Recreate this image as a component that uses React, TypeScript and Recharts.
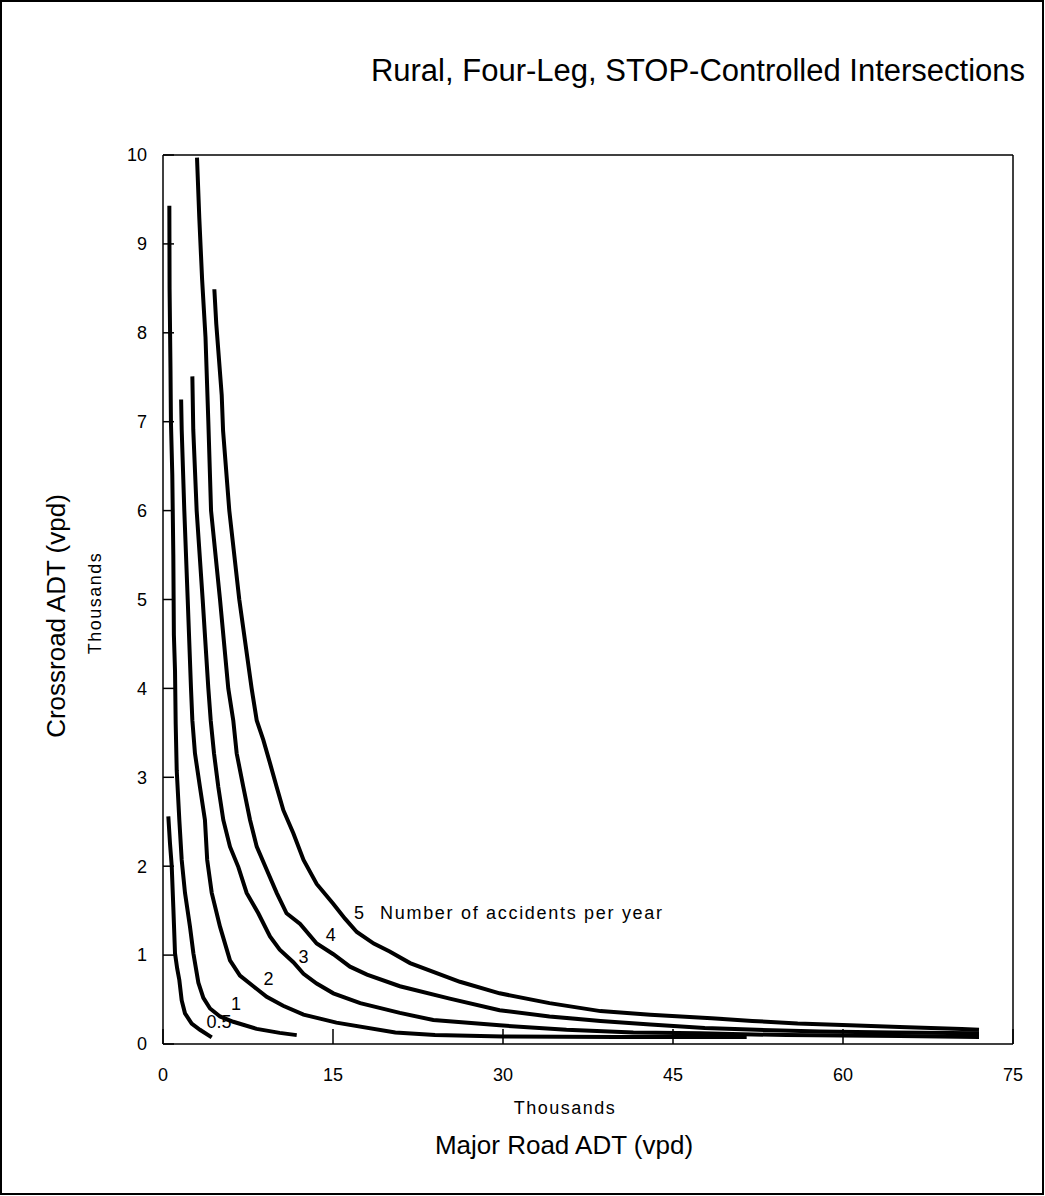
import React from 'react'
import {
  ComposedChart,
  Line,
  Scatter,
  XAxis,
  YAxis,
  ReferenceLine,
} from 'recharts'

type Pt = [number, number]

// [major road ADT, crossroad ADT] in thousands
const curve05: Pt[] = [
  [0.47, 2.56], [0.62, 2.25], [0.77, 2.0], [0.91, 1.54], [1.06, 1.02], [1.25, 0.85],
  [1.44, 0.72], [1.65, 0.49], [1.94, 0.345], [2.53, 0.23], [3.26, 0.16], [4.3, 0.075],
]
const curve1: Pt[] = [
  [0.56, 9.43], [0.58, 8.5], [0.66, 7.6], [0.7, 7.0], [0.82, 6.4], [0.91, 5.5], [0.96, 4.6],
  [1.06, 4.2], [1.12, 3.6], [1.21, 3.08], [1.44, 2.52], [1.65, 2.07], [1.94, 1.7], [2.38, 1.32],
  [2.68, 1.02], [3.12, 0.69], [3.56, 0.52], [4.15, 0.4], [5.03, 0.31], [6.2, 0.25], [8.27, 0.17],
  [10.3, 0.125], [11.8, 0.1],
]
const curve2: Pt[] = [
  [1.6, 7.25], [1.65, 6.91], [1.88, 6.0], [2.18, 5.0], [2.47, 4.0], [2.59, 3.64], [2.82, 3.27],
  [3.26, 2.89], [3.7, 2.52], [3.9, 2.07], [4.3, 1.7], [5.03, 1.32], [5.91, 0.94], [6.79, 0.77],
  [7.97, 0.65], [9.15, 0.53], [10.6, 0.43], [12.4, 0.33], [15.3, 0.24], [20.5, 0.13], [24, 0.1],
  [30, 0.085], [40, 0.08], [51.5, 0.08],
]
const curve3: Pt[] = [
  [2.59, 7.51], [2.67, 6.91], [2.97, 6.0], [3.5, 5.0], [4.0, 4.0], [4.21, 3.64], [4.5, 3.27],
  [4.88, 2.89], [5.32, 2.52], [5.91, 2.22], [6.65, 1.99], [7.38, 1.7], [8.41, 1.47], [9.44, 1.21],
  [10.3, 1.06], [11.5, 0.92], [12.4, 0.79], [13.56, 0.68], [15.03, 0.57], [17.4, 0.46],
  [20.9, 0.35], [23.85, 0.27], [29.7, 0.21], [35.6, 0.16], [41.5, 0.13], [47.4, 0.12],
  [55, 0.1], [65, 0.09], [72, 0.08],
]
const curve4: Pt[] = [
  [3.0, 9.97], [3.2, 9.3], [3.45, 8.6], [3.75, 7.95], [4.0, 7.0], [4.24, 6.0], [5.03, 5.0],
  [5.76, 4.0], [6.2, 3.64], [6.5, 3.27], [7.09, 2.89], [7.68, 2.52], [8.27, 2.22], [9.15, 1.96],
  [10.03, 1.7], [10.9, 1.47], [12.1, 1.35], [13.56, 1.13], [15.03, 1.01], [16.5, 0.87],
  [18, 0.78], [20.9, 0.65], [25.3, 0.51], [29.7, 0.38], [34.1, 0.31], [38.6, 0.26], [43, 0.22],
  [47.8, 0.18], [52.4, 0.16], [58, 0.14], [64.4, 0.13], [72, 0.12],
]
const curve5: Pt[] = [
  [4.53, 8.49], [4.7, 8.1], [4.94, 7.7], [5.18, 7.3], [5.3, 6.9], [5.85, 6.0], [6.73, 5.0],
  [7.82, 4.0], [8.27, 3.64], [8.85, 3.42], [9.44, 3.16], [10.03, 2.89], [10.62, 2.63],
  [11.5, 2.37], [12.4, 2.07], [13.56, 1.8], [15.0, 1.58], [16.06, 1.41], [17.1, 1.26],
  [18.6, 1.13], [20, 1.04], [21.8, 0.91], [26.2, 0.7], [29.7, 0.57], [34.1, 0.46], [38.6, 0.37],
  [43, 0.33], [48.4, 0.29], [52, 0.26], [56, 0.23], [60.6, 0.21], [65, 0.19], [70.5, 0.17],
  [72, 0.16],
]

const labelText = ['0.5', '1', '2', '3', '4', '5', 'Number of accidents per year']
const labelMajor = [4.95, 6.45, 9.3, 12.4, 14.8, 17.3, 19.15]
const labelCross = [0.25, 0.45, 0.73, 0.98, 1.23, 1.47, 1.47]

const xTicks = [0, 15, 30, 45, 60, 75]
const yTicks = [0, 1, 2, 3, 4, 5, 6, 7, 8, 9, 10]

const curves = [curve05, curve1, curve2, curve3, curve4, curve5]
const toRows = (pts: Pt[]) => pts.map(([x, y]) => ({ x, y }))
const labelRows = labelText.map((text, i) => ({ x: labelMajor[i], y: labelCross[i], text }))

const FONT = '"Liberation Sans", Arial, Helvetica, sans-serif'

const CurveLabel = (props: any) => {
  const { cx, cy, payload } = props
  const long = payload.text.length > 3
  return (
    <text
      x={cx}
      y={cy}
      textAnchor={long ? 'start' : 'middle'}
      dominantBaseline="central"
      fontSize={18}
      letterSpacing={long ? 1.7 : 0}
      fontFamily={FONT}
      fill="#000"
    >
      {payload.text}
    </text>
  )
}

export default function App() {
  return (
    <div style={{ position: 'absolute', left: 0, top: 0, width: 1045, height: 1196, background: '#fff' }}>
      <ComposedChart
        width={1045}
        height={1196}
        margin={{ top: 155, right: 32, bottom: 0, left: 0 }}
        style={{ fontFamily: FONT }}
      >
        <XAxis
          type="number"
          dataKey="x"
          domain={[0, 75]}
          ticks={xTicks}
          height={152}
          tickSize={-15}
          tickMargin={39}
          axisLine={{ stroke: '#000', strokeWidth: 1.5 }}
          tickLine={{ stroke: '#000', strokeWidth: 1.5 }}
          tick={{ fill: '#000', fontSize: 18 }}
          allowDataOverflow
        />
        <YAxis
          type="number"
          dataKey="y"
          domain={[0, 10]}
          ticks={yTicks}
          width={163}
          tickSize={-11}
          tickMargin={27}
          axisLine={{ stroke: '#000', strokeWidth: 1.5 }}
          tickLine={{ stroke: '#000', strokeWidth: 1.5 }}
          tick={{ fill: '#000', fontSize: 18 }}
          allowDataOverflow
        />
        <ReferenceLine y={10} stroke="#000" strokeWidth={1.5} />
        <ReferenceLine x={75} stroke="#000" strokeWidth={1.5} />
        {curves.map((c, i) => (
          <Line
            key={i}
            data={toRows(c)}
            dataKey="y"
            type="linear"
            stroke="#000"
            strokeWidth={4}
            dot={false}
            activeDot={false}
            isAnimationActive={false}
          />
        ))}
        <Scatter data={labelRows} shape={CurveLabel} isAnimationActive={false} />
      </ComposedChart>
      <svg
        width={1045}
        height={1196}
        style={{ position: 'absolute', left: 0, top: 0, pointerEvents: 'none' }}
        fontFamily={FONT}
      >
        <rect x={1} y={1} width={1042} height={1193} fill="none" stroke="#000" strokeWidth={2} />
        <text x={698} y={70} fontSize={31} textAnchor="middle" dominantBaseline="central">
          Rural, Four-Leg, STOP-Controlled Intersections
        </text>
        <text
          x={56}
          y={616}
          fontSize={26}
          textAnchor="middle"
          dominantBaseline="central"
          transform="rotate(-90 56 616)"
        >
          Crossroad ADT (vpd)
        </text>
        <text
          x={95}
          y={603}
          fontSize={18}
          letterSpacing={1.5}
          textAnchor="middle"
          dominantBaseline="central"
          transform="rotate(-90 95 603)"
        >
          Thousands
        </text>
        <text x={565} y={1108} fontSize={18} letterSpacing={1.5} textAnchor="middle" dominantBaseline="central">
          Thousands
        </text>
        <text x={564} y={1145} fontSize={26} textAnchor="middle" dominantBaseline="central">
          Major Road ADT (vpd)
        </text>
      </svg>
    </div>
  )
}
